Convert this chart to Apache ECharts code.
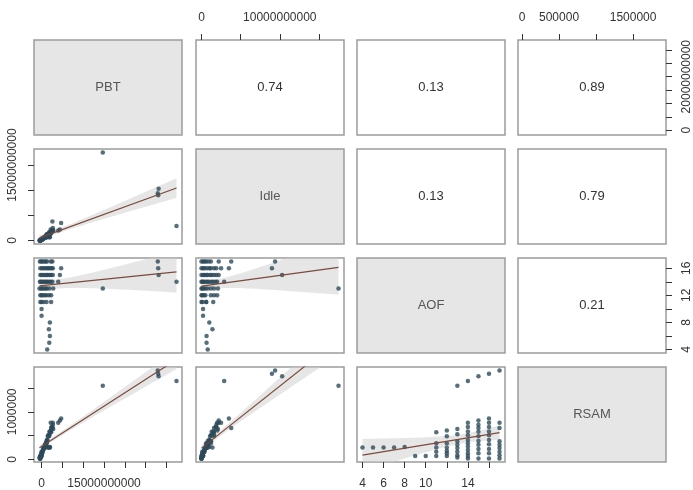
<!DOCTYPE html>
<html>
<head>
<meta charset="utf-8">
<script src="https://cdn.jsdelivr.net/npm/echarts@6/dist/echarts.min.js"></script>
<style>
  html, body { margin: 0; padding: 0; background: #fff; }
  #main { width: 693px; height: 490px; }
</style>
</head>
<body>
<div id="main"></div>
<script>
// variables of the pairs plot
const varNames = ['PBT', 'Idle', 'AOF', 'RSAM'];

// correlation text of the upper panels, [row][col]
const corrText = [
  [null, '0.74', '0.13', '0.89'],
  [null, null, '0.13', '0.79'],
  [null, null, null, '0.21']
];

// observations (one entry per firm)
const pbt = [1.35e9, 1.85e9, 2.0e9, 1.75e9, 2.0e9, 0, 0,
  2.3e9, 1.2e9, 0.5e9, 0, -0.3e9,
  2.3e9, 1.8e9, 1.2e9, 0.8e9, 0.3e9, 0, -0.3e9,
  1.47e10, 2.8e9, 1.9e9, 1.3e9, 1.0e9, 0.6e9, 0.2e9, -0.1e9, -0.5e9,
  3.24e10, 4.0e9, 2.6e9, 2.2e9, 1.8e9, 1.4e9, 1.1e9, 0.8e9, 0.4e9, 0.1e9, -0.2e9, -0.4e9,
  2.81e10, 4.4e9, 2.7e9, 2.3e9, 1.9e9, 1.5e9, 1.2e9, 0.8e9, 0.4e9, 0, -0.3e9,
  2.8e10, 4.7e9, 2.7e9, 2.4e9, 2.0e9, 1.6e9, 1.3e9, 0.9e9, 0.5e9, 0.1e9, -0.3e9,
  2.79e10, 2.6e9, 2.2e9, 1.3e9, 1.0e9, 0.6e9, 0.2e9, -0.1e9, -0.4e9];

const idle = [0.8e9, 0.65e9, 0.65e9, 1.4e9, 1.0e9, 0.2e9, 0.2e9,
  1.5e9, 0.6e9, 0.6e9, 0.1e9, 0,
  2.0e9, 1.6e9, 1.2e9, 0.5e9, 0.3e9, 0.1e9, 0,
  1.75e10, 2.1e9, 1.6e9, 1.2e9, 0.8e9, 0.5e9, 0.3e9, 0.1e9, 0,
  2.9e9, 2.0e9, 1.8e9, 1.5e9, 1.3e9, 1.0e9, 0.8e9, 0.6e9, 0.4e9, 0.2e9, 0.1e9, 0,
  1.03e10, 2.2e9, 1.9e9, 1.6e9, 1.3e9, 1.1e9, 0.8e9, 0.6e9, 0.4e9, 0.2e9, 0,
  9.0e9, 3.5e9, 2.5e9, 1.9e9, 1.6e9, 1.2e9, 1.0e9, 0.7e9, 0.4e9, 0.2e9, 0,
  9.4e9, 3.8e9, 2.2e9, 1.2e9, 0.9e9, 0.6e9, 0.4e9, 0.2e9, 0];

const aof = [4, 5, 6, 7, 8, 9, 10,
  11, 11, 11, 11, 11,
  12, 12, 12, 12, 12, 12, 12,
  13, 13, 13, 13, 13, 13, 13, 13, 13,
  14, 14, 14, 14, 14, 14, 14, 14, 14, 14, 14, 14,
  15, 15, 15, 15, 15, 15, 15, 15, 15, 15, 15,
  16, 16, 16, 16, 16, 16, 16, 16, 16, 16, 16,
  17, 17, 17, 17, 17, 17, 17, 17, 17];

const rsam = [0.25e6, 0.25e6, 0.25e6, 0.25e6, 0.26e6, 0.07e6, 0.07e6,
  0.57e6, 0.34e6, 0.25e6, 0.16e6, 0.07e6,
  0.61e6, 0.49e6, 0.34e6, 0.25e6, 0.18e6, 0.13e6, 0.07e6,
  1.55e6, 0.64e6, 0.53e6, 0.38e6, 0.31e6, 0.24e6, 0.16e6, 0.09e6, 0.04e6,
  1.65e6, 0.77e6, 0.68e6, 0.59e6, 0.51e6, 0.41e6, 0.34e6, 0.27e6, 0.20e6, 0.13e6, 0.07e6, 0.02e6,
  1.75e6, 0.82e6, 0.73e6, 0.66e6, 0.58e6, 0.49e6, 0.39e6, 0.31e6, 0.22e6, 0.13e6, 0.02e6,
  1.80e6, 0.86e6, 0.77e6, 0.68e6, 0.59e6, 0.51e6, 0.41e6, 0.32e6, 0.22e6, 0.13e6, 0.02e6,
  1.87e6, 0.66e6, 0.77e6, 0.38e6, 0.31e6, 0.24e6, 0.16e6, 0.09e6, 0.02e6];

// ticks and labels per variable
const tickValues = [
  [0, 5e9, 1e10, 1.5e10, 2e10, 2.5e10, 3e10],
  [0, 5e9, 1e10, 1.5e10],
  [4, 6, 8, 10, 12, 14, 16],
  [0, 5e5, 1e6, 1.5e6]
];
const xLabelValues = [[0, 1.5e10], [0, 1e10], [4, 6, 8, 10, 14], [0, 5e5, 1.5e6]];
const yLabelValues = [[0, 2e10], [0, 1.5e10], [4, 8, 12, 16], [0, 1e6]];

const vars = [pbt, idle, aof, rsam];
const colLeft = [34, 196, 357, 518];
const rowTop = [40, 149, 258, 367];
const panelW = 148, panelH = 95;
const FONT = 'Liberation Sans, Arial, sans-serif';

function padRange(v) {
  const lo = Math.min(...v), hi = Math.max(...v), r = hi - lo;
  return [lo - 0.04 * r, hi + 0.04 * r];
}

// least squares line with 95% confidence band
function lmFit(xs, ys) {
  const n = xs.length;
  const mx = xs.reduce((a, b) => a + b, 0) / n;
  const my = ys.reduce((a, b) => a + b, 0) / n;
  let sxx = 0, sxy = 0;
  for (let i = 0; i < n; i++) { sxx += (xs[i] - mx) ** 2; sxy += (xs[i] - mx) * (ys[i] - my); }
  const b = sxy / sxx, a = my - b * mx;
  let sse = 0;
  for (let i = 0; i < n; i++) sse += (ys[i] - a - b * xs[i]) ** 2;
  const s = Math.sqrt(sse / (n - 2)), t = 1.994;
  const lo = Math.min(...xs), hi = Math.max(...xs);
  const upper = [], lower = [];
  for (let k = 0; k <= 60; k++) {
    const x = lo + (hi - lo) * k / 60;
    const yh = a + b * x;
    const se = s * Math.sqrt(1 / n + (x - mx) ** 2 / sxx);
    upper.push([x, yh + t * se]);
    lower.push([x, yh - t * se]);
  }
  return { line: [[lo, a + b * lo], [hi, a + b * hi]], poly: upper.concat(lower.reverse()) };
}

const grids = [], xAxes = [], yAxes = [], series = [], graphics = [];

for (let r = 0; r < 4; r++) {
  for (let c = 0; c < 4; c++) {
    const k = r * 4 + c;
    grids.push({
      left: colLeft[c], top: rowTop[r], width: panelW, height: panelH,
      show: true, borderColor: '#9c9c9c', borderWidth: 1.5,
      backgroundColor: r === c ? '#e6e6e6' : '#fff',
      outerBoundsMode: 'none'
    });

    const showX = (r === 3 && c % 2 === 0) || (r === 0 && c % 2 === 1);
    const showY = (c === 0 && r % 2 === 1) || (c === 3 && r % 2 === 0);
    const xr = padRange(vars[c]), yr = padRange(vars[r]);

    xAxes.push({
      type: 'value', gridIndex: k, min: xr[0], max: xr[1],
      show: showX, position: r === 3 ? 'bottom' : 'top',
      axisLine: { show: false, onZero: false }, splitLine: { show: false },
      axisTick: { show: true, length: 6, customValues: tickValues[c], lineStyle: { color: '#333' } },
      axisLabel: {
        show: true, customValues: xLabelValues[c], formatter: v => String(v),
        margin: 16, fontSize: 12, color: '#333', fontFamily: FONT, hideOverlap: false
      }
    });
    yAxes.push({
      type: 'value', gridIndex: k, min: yr[0], max: yr[1],
      show: showY, position: c === 0 ? 'left' : 'right',
      axisLine: { show: false, onZero: false }, splitLine: { show: false },
      axisTick: { show: true, length: 6, customValues: tickValues[r], lineStyle: { color: '#333' } },
      axisLabel: {
        show: true, customValues: yLabelValues[r], formatter: v => String(v), rotate: 90,
        margin: 15, fontSize: 12, color: '#333', fontFamily: FONT, hideOverlap: false
      }
    });

    const cx = colLeft[c] + panelW / 2, cy = rowTop[r] + panelH / 2;
    if (r === c) {
      graphics.push({
        type: 'text', x: cx, y: cy, z: 10,
        style: { text: varNames[r], fill: '#555', font: '13px ' + FONT, textAlign: 'center', textVerticalAlign: 'middle' }
      });
    } else if (r < c) {
      graphics.push({
        type: 'text', x: cx, y: cy, z: 10,
        style: { text: corrText[r][c], fill: '#333', font: '13px ' + FONT, textAlign: 'center', textVerticalAlign: 'middle' }
      });
    } else {
      const xs = vars[c], ys = vars[r];
      const fit = lmFit(xs, ys);
      series.push({
        type: 'custom', xAxisIndex: k, yAxisIndex: k, clip: true, silent: true, z: 1,
        data: [fit.line[0]],
        renderItem: (params, api) => ({
          type: 'polygon',
          shape: { points: fit.poly.map(p => api.coord(p)) },
          style: { fill: 'rgba(205,205,205,0.5)' }
        })
      });
      series.push({
        type: 'scatter', xAxisIndex: k, yAxisIndex: k, symbolSize: 4.5, z: 2, silent: true,
        itemStyle: { color: '#2d4a5a' },
        data: xs.map((x, i) => [x, ys[i]])
      });
      series.push({
        type: 'line', xAxisIndex: k, yAxisIndex: k, showSymbol: false, z: 3, silent: true,
        lineStyle: { color: '#7b4a3c', width: 1.2 },
        data: fit.line
      });
    }
  }
}

const chart = echarts.init(document.getElementById('main'));
chart.setOption({
  animation: false,
  backgroundColor: '#fff',
  grid: grids,
  xAxis: xAxes,
  yAxis: yAxes,
  series: series,
  graphic: graphics
});
</script>
</body>
</html>
